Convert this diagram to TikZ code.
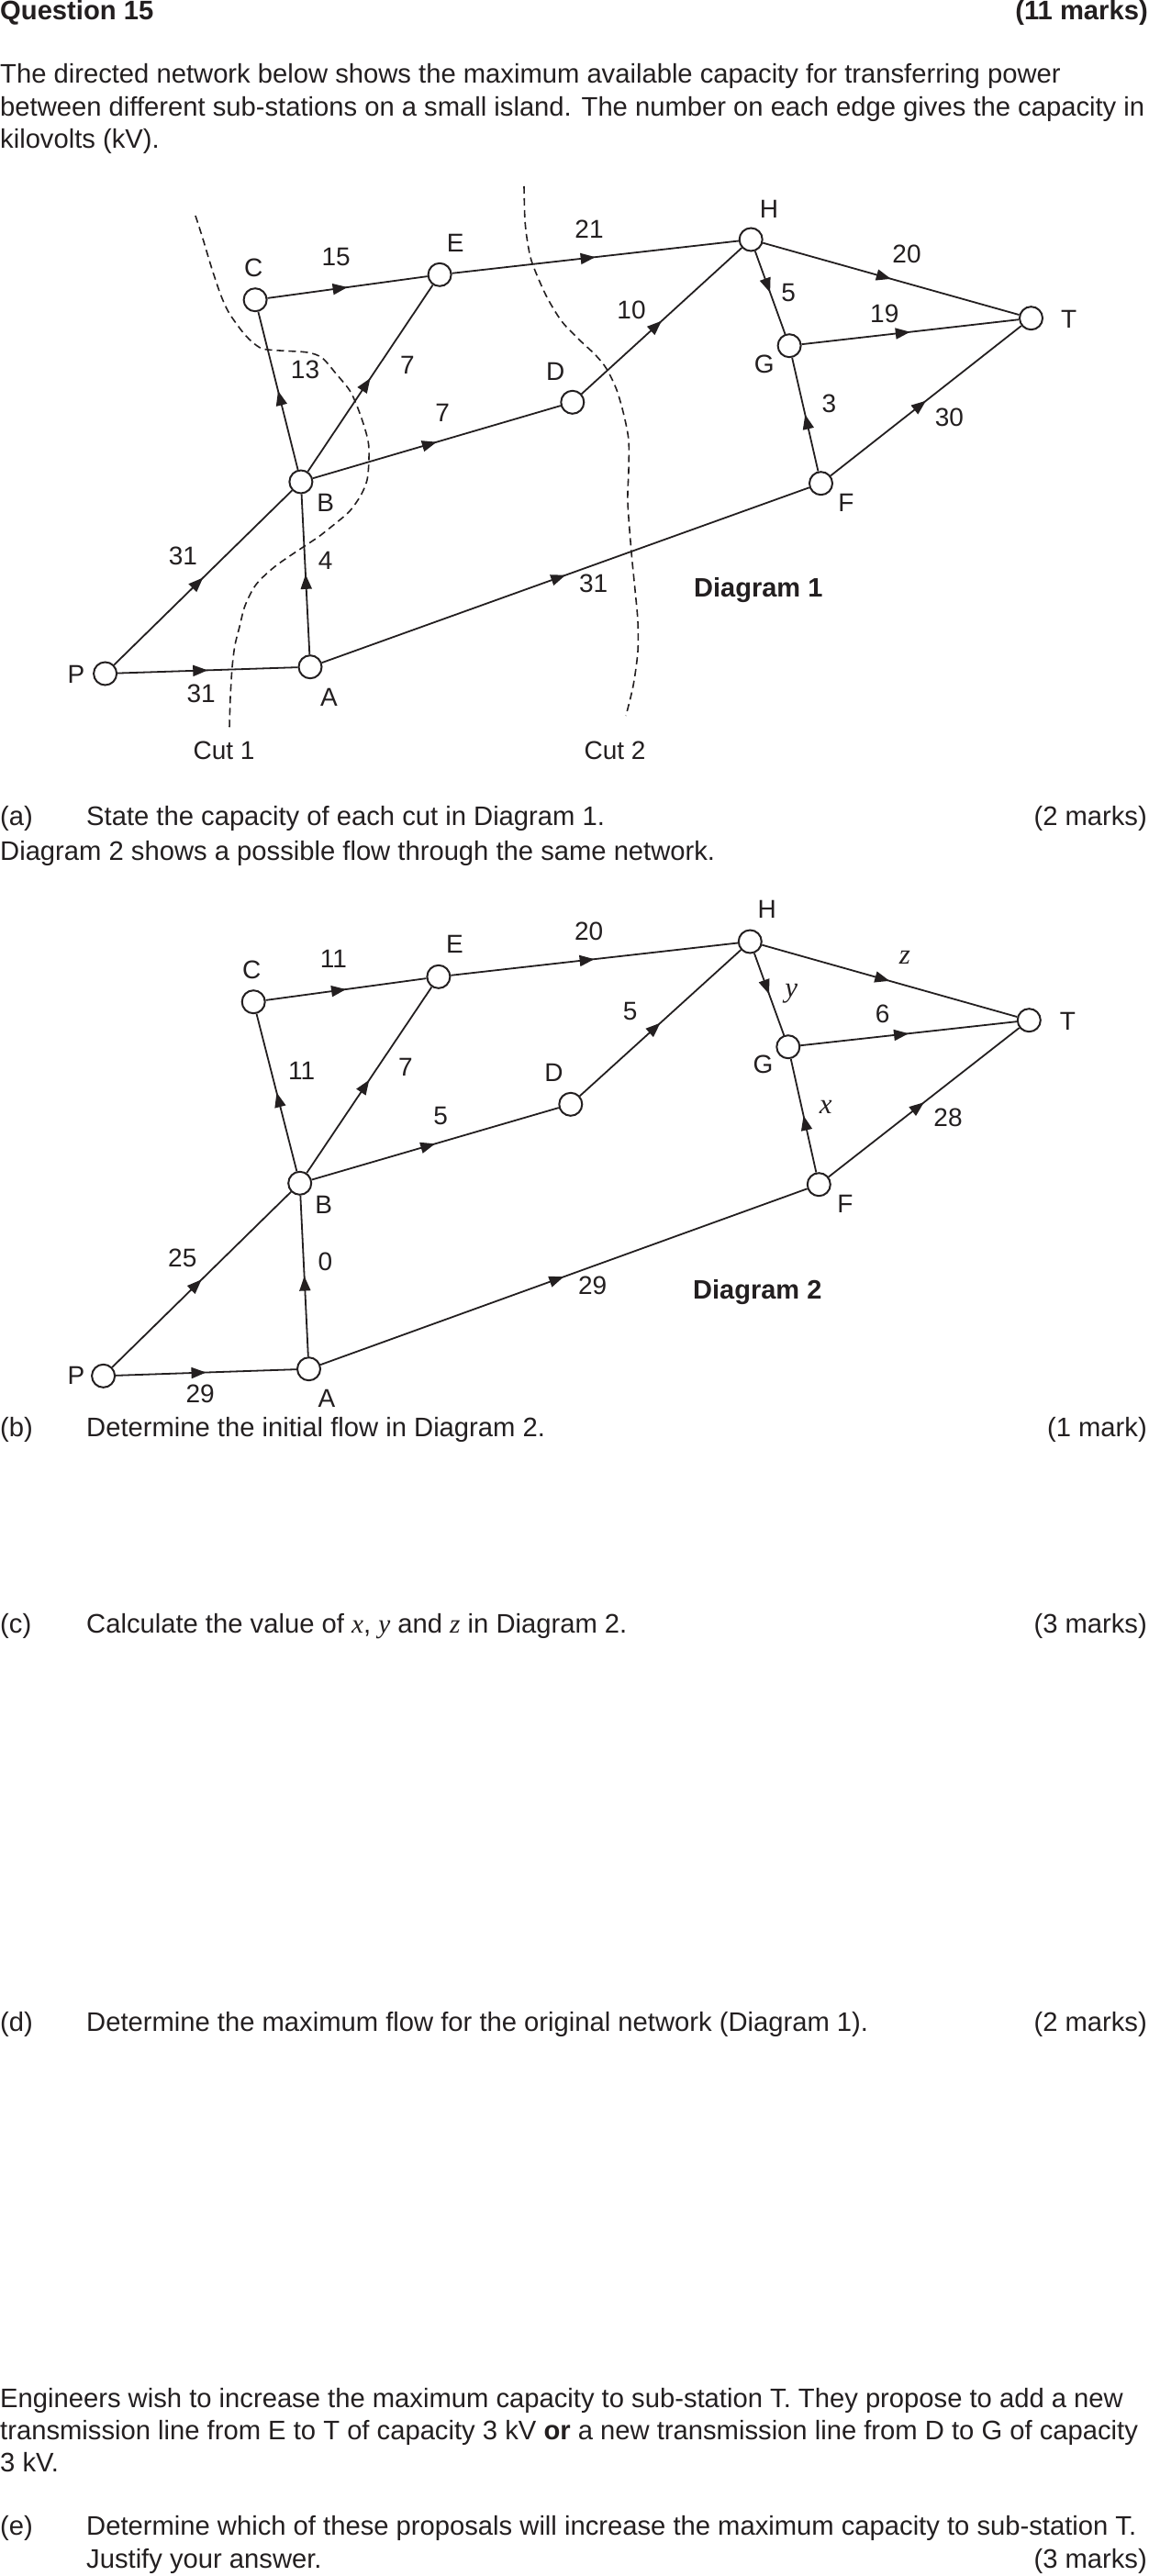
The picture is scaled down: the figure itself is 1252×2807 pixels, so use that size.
\documentclass[tikz,border=0pt]{standalone}
\usepackage{fontspec}
\setmainfont{Liberation Sans}
\newfontfamily\tms{Liberation Serif}
\usetikzlibrary{arrows.meta,decorations.markings}
\definecolor{ink}{HTML}{231F20}
\begin{document}
\begin{tikzpicture}[x=1pt,y=-1pt,
  vtx/.style={circle,draw=ink,fill=white,line width=2pt,minimum size=25pt,inner sep=0pt},
  link/.style={draw=ink,line width=1.8pt,postaction={decorate},
    decoration={markings,mark=at position 0.5 with {\arrow{Triangle[length=16pt,width=12pt]}}}},
  lbl/.style={text=ink,font=\fontsize{28}{30}\selectfont,inner sep=0pt},
  var/.style={text=ink,font=\fontsize{31}{32}\selectfont\tms\itshape,inner sep=0pt},
  txt/.style={text=ink,font=\fontsize{29.2}{35}\selectfont,inner sep=0pt,anchor=base west},
  txtr/.style={txt,anchor=base east},
  dlab/.style={text=ink,font=\fontsize{29}{30}\selectfont\bfseries,inner sep=0pt,anchor=base west},
  cutline/.style={draw=ink,line width=1.6pt,dash pattern=on 8pt off 5pt}
]
\fill[white] (0,0) rectangle (1252,2807);
\useasboundingbox (0,0) rectangle (1252,2807);

% ---------- header text ----------
\node[txt,font=\fontsize{29.2}{35}\selectfont\bfseries] (q) at (0,21.5) {Question 15};
\node[txtr,font=\fontsize{29.2}{35}\selectfont\bfseries] (qm) at (1251,21.5) {(11 marks)};
\node[txt] (l1) at (0,90.7) {The directed network below shows the maximum available capacity for transferring power};
\node[txt] (l2) at (0,126.5) {between different sub-stations on a small island. The number on each edge gives the capacity in};
\node[txt] (l3) at (0,162) {kilovolts (kV).};

% ---------- Diagram 1 ----------
\draw[cutline] plot[smooth,tension=0.5] coordinates {(213,235) (221,260) (230,290) (240,320) (249,340) (263,360) (274,372) (286,380) (305,382) (335,384) (351,390) (366,407) (382,427) (393,453) (401,480) (402,500) (400,523) (393,540) (381,557) (366,570) (347,585) (332,595) (300,617) (279,637) (267,660) (261,683) (256,703) (253,727) (251,760) (250,793)};
\draw[cutline] plot[smooth,tension=0.5] coordinates {(571,203) (572,240) (575,265) (580,287) (595,322) (612,350) (631,370) (649,387) (661,402) (672,425) (680,453) (685,480) (685,513) (684,547) (688,602) (692,643) (695,677) (695,710) (690,747) (682,780)};

\node[vtx] (P1) at (114.6,734) {};
\node[vtx] (A1) at (338,726.7) {};
\node[vtx] (B1) at (327.9,525) {};
\node[vtx] (C1) at (278.1,326.7) {};
\node[vtx] (E1) at (479.1,299.3) {};
\node[vtx] (D1) at (623.8,438.3) {};
\node[vtx] (H1) at (818.2,261) {};
\node[vtx] (G1) at (860.1,376.7) {};
\node[vtx] (T1) at (1123.5,346.7) {};
\node[vtx] (F1) at (894.5,526.7) {};

\draw[link] (P1) -- (B1);
\draw[link] (P1) -- (A1);
\draw[link] (A1) -- (B1);
\draw[link] (A1) -- (F1);
\draw[link] (B1) -- (C1);
\draw[link] (B1) -- (E1);
\draw[link] (B1) -- (D1);
\draw[link] (C1) -- (E1);
\draw[link] (E1) -- (H1);
\draw[link] (D1) -- (H1);
\draw[link] (H1) -- (T1);
\draw[link] (H1) -- (G1);
\draw[link] (G1) -- (T1);
\draw[link] (F1) -- (G1);
\draw[link] (F1) -- (T1);

\node[lbl] (lP1) at (83,735) {P};
\node[lbl] (lA1) at (358.5,760) {A};
\node[lbl] (lB1) at (354.7,548.3) {B};
\node[lbl] (lC1) at (276.2,291.7) {C};
\node[lbl] (lE1) at (496.3,265) {E};
\node[lbl] (lD1) at (605.3,405) {D};
\node[lbl] (lH1) at (838,228.3) {H};
\node[lbl] (lG1) at (832.7,396.7) {G};
\node[lbl] (lT1) at (1164.6,348.3) {T};
\node[lbl] (lF1) at (921.9,548.3) {F};
\node[lbl] (w1a) at (366.2,280) {15};
\node[lbl] (w1b) at (642,250) {21};
\node[lbl] (w1c) at (332.5,402.7) {13};
\node[lbl] (w1d) at (443.9,398.3) {7};
\node[lbl] (w1e) at (482.1,450) {7};
\node[lbl] (w1f) at (199.5,606) {31};
\node[lbl] (w1g) at (354.6,610.5) {4};
\node[lbl] (w1h) at (988,276.7) {20};
\node[lbl] (w1i) at (859.2,319.3) {5};
\node[lbl] (w1j) at (688,338.3) {10};
\node[lbl] (w1k) at (963.8,341.7) {19};
\node[lbl] (w1l) at (903.3,440) {3};
\node[lbl] (w1m) at (1034.4,455) {30};
\node[lbl] (w1n) at (219.2,756) {31};
\node[lbl] (w1o) at (646.7,636) {31};
\node[lbl] (cut1) at (244,818) {Cut 1};
\node[lbl] (cut2) at (670,818) {Cut 2};
\node[dlab] (dg1) at (756,650.7) {Diagram 1};

% ---------- part (a) ----------
\node[txt] (pa) at (0,899) {(a)};
\node[txt] (pat) at (94,899) {State the capacity of each cut in Diagram 1.};
\node[txtr] (pam) at (1250,899) {(2 marks)};
\node[txt] (d2t) at (0,937.7) {Diagram 2 shows a possible flow through the same network.};

% ---------- Diagram 2 ----------
\node[vtx] (P2) at (112.6,1499.3) {};
\node[vtx] (A2) at (336.5,1491.7) {};
\node[vtx] (B2) at (326.7,1289.3) {};
\node[vtx] (C2) at (276.2,1091.7) {};
\node[vtx] (E2) at (477.9,1064.3) {};
\node[vtx] (D2) at (621.8,1203.3) {};
\node[vtx] (H2) at (817.3,1026) {};
\node[vtx] (G2) at (858.8,1140.7) {};
\node[vtx] (T2) at (1121.3,1111.7) {};
\node[vtx] (F2) at (892.3,1290.7) {};

\draw[link] (P2) -- (B2);
\draw[link] (P2) -- (A2);
\draw[link] (A2) -- (B2);
\draw[link] (A2) -- (F2);
\draw[link] (B2) -- (C2);
\draw[link] (B2) -- (E2);
\draw[link] (B2) -- (D2);
\draw[link] (C2) -- (E2);
\draw[link] (E2) -- (H2);
\draw[link] (D2) -- (H2);
\draw[link] (H2) -- (T2);
\draw[link] (H2) -- (G2);
\draw[link] (G2) -- (T2);
\draw[link] (F2) -- (G2);
\draw[link] (F2) -- (T2);

\node[lbl] (lP2) at (83,1499.3) {P};
\node[lbl] (lA2) at (356,1524) {A};
\node[lbl] (lB2) at (352.8,1312.7) {B};
\node[lbl] (lC2) at (274.3,1056.7) {C};
\node[lbl] (lE2) at (495.5,1029.3) {E};
\node[lbl] (lD2) at (603.4,1169.3) {D};
\node[lbl] (lH2) at (835.8,990.7) {H};
\node[lbl] (lG2) at (831.4,1160) {G};
\node[lbl] (lT2) at (1163.3,1113.3) {T};
\node[lbl] (lF2) at (921,1311.7) {F};
\node[lbl] (w2a) at (363.5,1045) {11};
\node[lbl] (w2b) at (641.7,1015) {20};
\node[lbl] (w2c) at (328.7,1166.7) {11};
\node[lbl] (w2d) at (441.9,1162.7) {7};
\node[lbl] (w2e) at (480.2,1216) {5};
\node[lbl] (w2f) at (198.8,1370.7) {25};
\node[lbl] (w2g) at (354.4,1375) {0};
\node[var] (w2h) at (985.9,1043) {z};
\node[var] (w2i) at (862.3,1083) {y};
\node[lbl] (w2j) at (686.7,1101.7) {5};
\node[lbl] (w2k) at (961.6,1105) {6};
\node[var] (w2l) at (899.8,1206) {x};
\node[lbl] (w2m) at (1033,1218.3) {28};
\node[lbl] (w2n) at (218.2,1519.3) {29};
\node[lbl] (w2o) at (645.7,1400.7) {29};
\node[dlab] (dg2) at (755,1415) {Diagram 2};

% ---------- parts (b)-(e) ----------
\node[txt] (pb) at (0,1565) {(b)};
\node[txt] (pbt) at (94,1565) {Determine the initial flow in Diagram 2.};
\node[txtr] (pbm) at (1250,1565) {(1 mark)};

\node[txt] (pc) at (0,1779) {(c)};
\node[txt] (pct) at (94,1779) {Calculate the value of {\tms\itshape x}, {\tms\itshape y} and {\tms\itshape z} in Diagram 2.};
\node[txtr] (pcm) at (1250,1779) {(3 marks)};

\node[txt] (pd) at (0,2213) {(d)};
\node[txt] (pdt) at (94,2213) {Determine the maximum flow for the original network (Diagram 1).};
\node[txtr] (pdm) at (1250,2213) {(2 marks)};

\node[txt] (e1) at (0,2623.3) {Engineers wish to increase the maximum capacity to sub-station T. They propose to add a new};
\node[txt] (e2) at (0,2658.3) {transmission line from E to T of capacity 3 kV \textbf{or} a new transmission line from D to G of capacity};
\node[txt] (e3) at (0,2693.3) {3 kV.};

\node[txt] (pe) at (0,2762.7) {(e)};
\node[txt] (pet) at (94,2762.7) {Determine which of these proposals will increase the maximum capacity to sub-station T.};
\node[txt] (pet2) at (94,2798.3) {Justify your answer.};
\node[txtr] (pem) at (1250,2798.3) {(3 marks)};
\end{tikzpicture}
\end{document}
